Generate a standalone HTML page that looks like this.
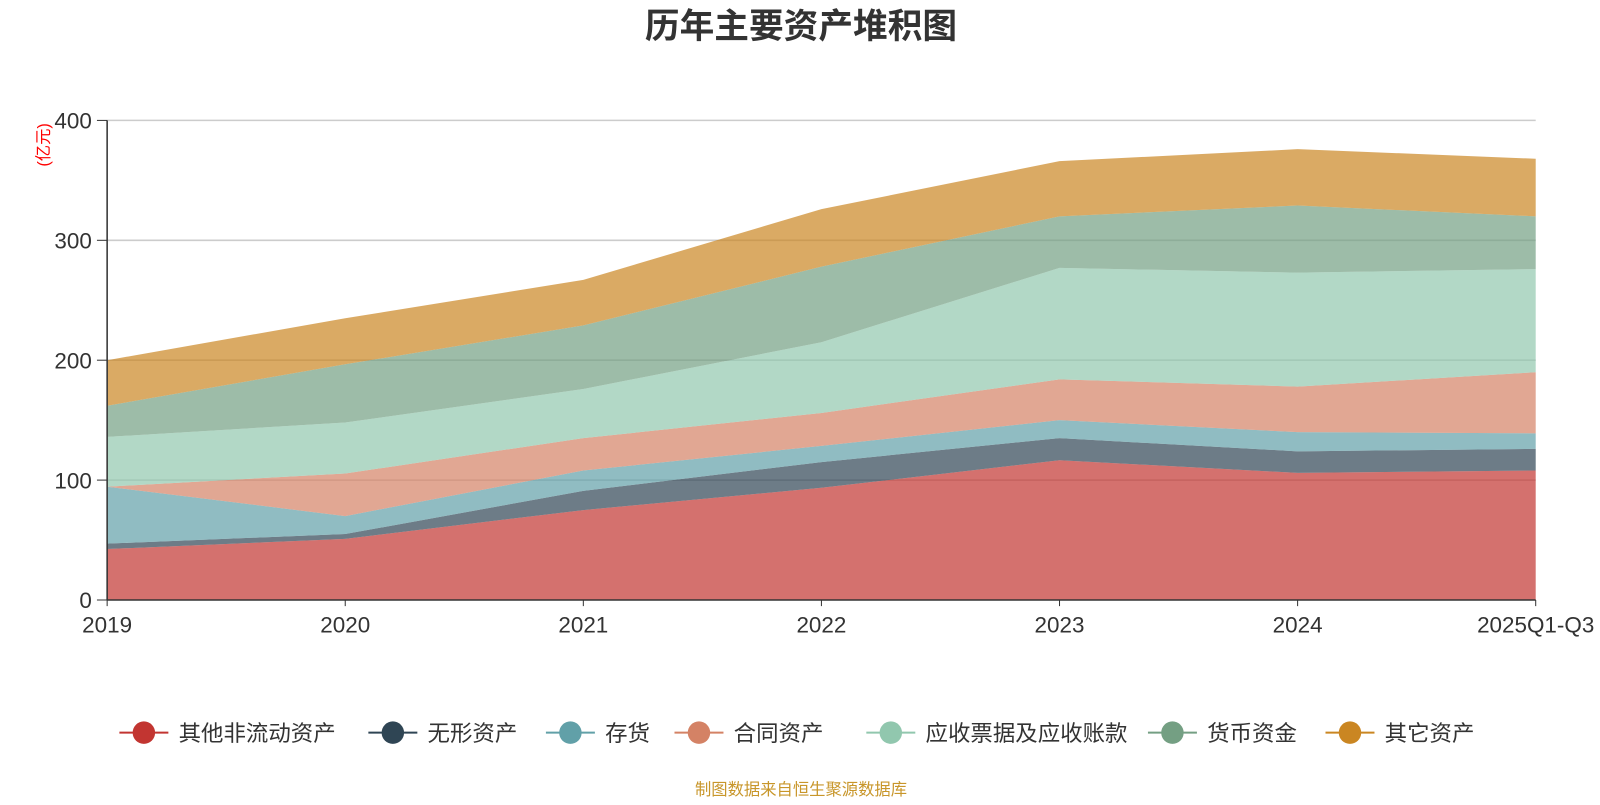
<!DOCTYPE html>
<html><head><meta charset="utf-8"><style>
body{margin:0;background:#fff;width:1600px;height:800px;overflow:hidden;font-family:"Liberation Sans","Noto Sans CJK SC",sans-serif}
</style></head><body>
<svg id="chart" width="1600" height="800" xmlns="http://www.w3.org/2000/svg" font-family="Liberation Sans, Noto Sans CJK SC, sans-serif">
<g transform="scale(1.0204)">
<text x="785" y="37" text-anchor="middle" font-size="34" font-weight="bold" fill="#333">历年主要资产堆积图</text>
<text transform="translate(48,142) rotate(-90)" text-anchor="middle" font-size="16" fill="#ff0000">(亿元)</text>
<g id="grid"></g><g id="areas"></g><g id="axes"></g><g id="legend"></g>
<text x="785" y="779" text-anchor="middle" font-size="16" fill="#c8962a">制图数据来自恒生聚源数据库</text>
</g>
</svg>
<script>
const categories=["2019","2020","2021","2022","2023","2024","2025Q1-Q3"];
const seriesNames=["其他非流动资产","无形资产","存货","合同资产","应收票据及应收账款","货币资金","其它资产"];
const otherNonCurrent=[42.5,51,75,93.6,116.6,106,108];
const intangible=[4.5,4,16,21.4,18.4,18,18];
const inventory=[47.5,15,17,13.5,15,16,13];
const contractAssets=[0,35.5,27,27.5,34,38,51];
const receivables=[41.5,42.5,41,59,93,95,86];
const cash=[26,48.6,53,63,43,56,44];
const otherAssets=[38,38.4,38,48,46,47,48];
const yTicks=[0,100,200,300,400];
const series=[otherNonCurrent,intangible,inventory,contractAssets,receivables,cash,otherAssets];
const colors=["#c23531","#2f4554","#61a0a8","#d48265","#91c7ae","#749f83","#ca8622"];
const NS="http://www.w3.org/2000/svg";
const x0=105,x1=1505,yb=588,yt=118;
const xs=i=>x0+i*(x1-x0)/(categories.length-1);
const ys=v=>yb-v*(yb-yt)/400;
function mk(t,a,p){const e=document.createElementNS(NS,t);for(const k in a)e.setAttribute(k,a[k]);p.appendChild(e);return e;}
const grid=document.getElementById('grid'),areas=document.getElementById('areas'),axes=document.getElementById('axes'),legend=document.getElementById('legend');
yTicks.forEach(v=>{
 if(v>0){const l=mk('line',{x1:x0,x2:x1,y1:ys(v),y2:ys(v),stroke:'#ccc','stroke-width':1.5},grid);
 
 }
 const t=mk('text',{x:90,y:ys(v)+8,'text-anchor':'end','font-size':22,fill:'#333'},axes);t.textContent=v;
 
 
 mk('line',{x1:95,x2:x0,y1:ys(v),y2:ys(v),stroke:'#333'},axes);
});
let base=categories.map(()=>0);
series.forEach((s,k)=>{
 const top=base.map((b,i)=>b+s[i]);
 let d='M'+top.map((v,i)=>xs(i)+','+ys(v)).join(' L');
 for(let i=categories.length-1;i>=0;i--)d+=' L'+xs(i)+','+ys(base[i]);
 const p=mk('path',{d:d+'Z',fill:colors[k],'fill-opacity':0.7,stroke:'none'},areas);
 
 
 base=top;
});
mk('line',{x1:x0,x2:x0,y1:yt,y2:yb,stroke:'#333','stroke-width':1.5},axes);
mk('line',{x1:x0,x2:x1,y1:yb,y2:yb,stroke:'#333','stroke-width':1.5},axes);
categories.forEach((c,i)=>{
 mk('line',{x1:xs(i),x2:xs(i),y1:yb,y2:yb+6,stroke:'#333'},axes);
 const t=mk('text',{x:xs(i),y:620,'text-anchor':'middle','font-size':22,fill:'#333'},axes);t.textContent=c;
 
 
});
const lx=[117,361,535,661,849,1125,1299];
seriesNames.forEach((n,k)=>{
 const g=mk('g',{},legend);
 
 
 mk('line',{x1:lx[k],x2:lx[k]+48,y1:718,y2:718,stroke:colors[k],'stroke-width':2},g);
 mk('circle',{cx:lx[k]+24,cy:718,r:11,fill:colors[k]},g);
 const t=mk('text',{x:lx[k]+58,y:726,'font-size':22,fill:'#333'},g);t.textContent=n;
});
</script>
</body></html>
